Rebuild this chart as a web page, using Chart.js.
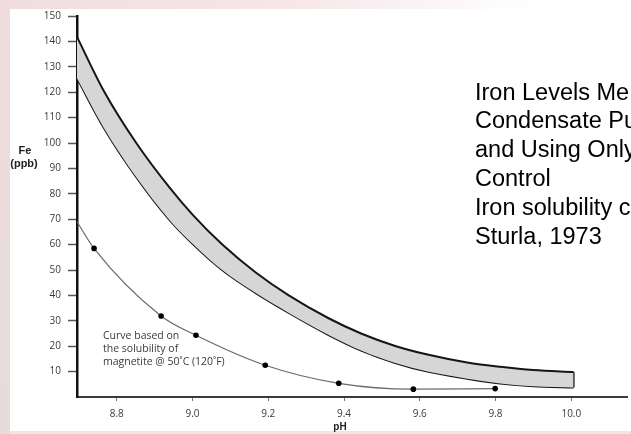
<!DOCTYPE html>
<html>
<head>
<meta charset="utf-8">
<script src="https://cdn.jsdelivr.net/npm/chart.js@4.4.1/dist/chart.umd.min.js"></script>
<style>
    html, body { margin: 0; padding: 0; }
    #frame {
        position: relative;
        width: 631px;
        height: 434px;
        overflow: hidden;
        background: linear-gradient(to right, #f1dde0 0%, #f6e6e8 45%, #ffffff 85%);
    }
    #leftStrip {
        position: absolute;
        left: 0; top: 0;
        width: 10px; height: 434px;
        background: linear-gradient(to bottom, #efdcdd 0%, #e6dcdc 100%);
    }
    #panel {
        position: absolute;
        left: 10px; top: 9px;
        width: 621px; height: 422px;
        background: #ffffff;
    }
    #bottomLine {
        position: absolute;
        left: 10px; top: 431px;
        width: 621px; height: 3px;
        background: #f3e3e5;
    }
    canvas { position: absolute; left: 0; top: 0; }
</style>
</head>
<body>
<div id="frame">
    <div id="leftStrip"></div>
    <div id="panel"></div>
    <div id="bottomLine"></div>
    <canvas id="ironChart" width="631" height="434"></canvas>
</div>
<script>
// band of measured iron levels (pH vs Fe ppb)
const bandPH = [8.695, 8.764, 8.852, 8.939, 9.0, 9.078, 9.166, 9.253, 9.358, 9.445, 9.533, 9.62, 9.725, 9.812, 9.9, 10.006];
const bandUpper = [141.8, 121, 99.9, 82.5, 71.8, 60.1, 49.1, 40.1, 31.1, 25.0, 20.2, 16.7, 13.6, 11.9, 10.6, 9.8];
const bandLower = [125.5, 106.4, 86.4, 69.7, 60.3, 50, 41, 33.2, 24.5, 18.3, 13.5, 10, 7.2, 5.3, 4.2, 3.7];

// magnetite solubility curve
const magPH = [8.695, 8.74, 8.917, 9.009, 9.192, 9.386, 9.583, 9.799];
const magFe = [69, 58.5, 31.9, 24.3, 12.5, 5.4, 3.1, 3.3];
const magDots = [false, true, true, true, true, true, true, true];

const xTicks = [8.8, 9.0, 9.2, 9.4, 9.6, 9.8, 10.0];
const yTicks = [10, 20, 30, 40, 50, 60, 70, 80, 90, 100, 110, 120, 130, 140, 150];

const sideText = ['Iron Levels Me', 'Condensate Pu', 'and Using Only', 'Control', 'Iron solubility c', 'Sturla, 1973'];
const noteText = ['Curve based on', 'the solubility of', 'magnetite @ 50\u02daC (120\u02daF)'];

const toPoints = (xs, ys) => xs.map((x, i) => ({ x: x, y: ys[i] }));
const last = arr => arr[arr.length - 1];

// free text: axis titles, the note and the caption on the right
const textPlugin = {
    id: 'textPlugin',
    afterDraw(chart) {
        const ctx = chart.ctx;
        ctx.save();
        ctx.textAlign = 'center';
        ctx.textBaseline = 'middle';
        ctx.fillStyle = '#222';
        ctx.font = 'bold 11px "Liberation Sans", Arial, sans-serif';
        ctx.fillText('Fe', 25, 151);
        ctx.fillText('(ppb)', 24, 164);
        ctx.font = 'bold 10px "Liberation Sans", Arial, sans-serif';
        ctx.fillText('pH', 340, 427);

        ctx.textAlign = 'left';
        ctx.fillStyle = '#3a3a3a';
        ctx.font = '10.5px "Open Sans", sans-serif';
        noteText.forEach((t, i) => ctx.fillText(t, 103, 336 + i * 13));

        ctx.textBaseline = 'alphabetic';
        ctx.fillStyle = '#000';
        ctx.font = '23.5px "Liberation Sans", Arial, sans-serif';
        sideText.forEach((t, i) => ctx.fillText(t, 475, 99.5 + i * 28.8));
        ctx.restore();
    }
};

new Chart(document.getElementById('ironChart'), {
    type: 'line',
    data: {
        datasets: [
            {
                label: 'upper',
                data: toPoints(bandPH, bandUpper),
                borderColor: '#151515',
                borderWidth: 2,
                pointRadius: 0,
                cubicInterpolationMode: 'monotone',
                fill: '+1',
                backgroundColor: '#d6d6d6'
            },
            {
                label: 'lower',
                data: toPoints(bandPH, bandLower),
                borderColor: '#151515',
                borderWidth: 2,
                pointRadius: 0,
                cubicInterpolationMode: 'monotone',
                fill: false
            },
            {
                label: 'cap',
                data: [{ x: last(bandPH), y: last(bandUpper) }, { x: last(bandPH), y: last(bandLower) }],
                borderColor: '#151515',
                borderWidth: 2,
                pointRadius: 0,
                tension: 0,
                fill: false
            },
            {
                label: 'magnetite',
                data: toPoints(magPH, magFe),
                borderColor: '#6a6a6a',
                borderWidth: 1.2,
                pointRadius: magDots.map(d => d ? 2.8 : 0),
                pointBackgroundColor: '#000',
                pointBorderColor: '#000',
                pointBorderWidth: 0,
                cubicInterpolationMode: 'monotone',
                fill: false
            }
        ]
    },
    options: {
        responsive: false,
        animation: false,
        devicePixelRatio: 1,
        layout: { padding: { top: 16, right: 0, bottom: 0, left: 0 } },
        plugins: {
            legend: { display: false },
            tooltip: { enabled: false }
        },
        scales: {
            x: {
                type: 'linear',
                min: 8.695,
                max: 10.147,
                afterFit: scale => { scale.height = 37; },
                afterBuildTicks: scale => { scale.ticks = xTicks.map(v => ({ value: v })); },
                border: { color: '#3a3a3a', width: 2 },
                grid: { drawOnChartArea: false, tickLength: 4, tickColor: '#777', tickWidth: 1 },
                ticks: {
                    padding: 7,
                    color: '#3a3a3a',
                    font: { family: '"Open Sans", sans-serif', size: 10 },
                    maxRotation: 0,
                    callback: v => v.toFixed(1)
                }
            },
            y: {
                min: 0,
                max: 150,
                afterFit: scale => { scale.width = 77; },
                afterBuildTicks: scale => { scale.ticks = yTicks.map(v => ({ value: v })); },
                border: { color: '#111', width: 2.5 },
                grid: { drawOnChartArea: false, tickLength: 9, tickColor: '#555', tickWidth: 1.5 },
                ticks: {
                    padding: 7,
                    color: '#3a3a3a',
                    font: { family: '"Open Sans", sans-serif', size: 10 }
                }
            }
        }
    },
    plugins: [textPlugin]
});
</script>
</body>
</html>
